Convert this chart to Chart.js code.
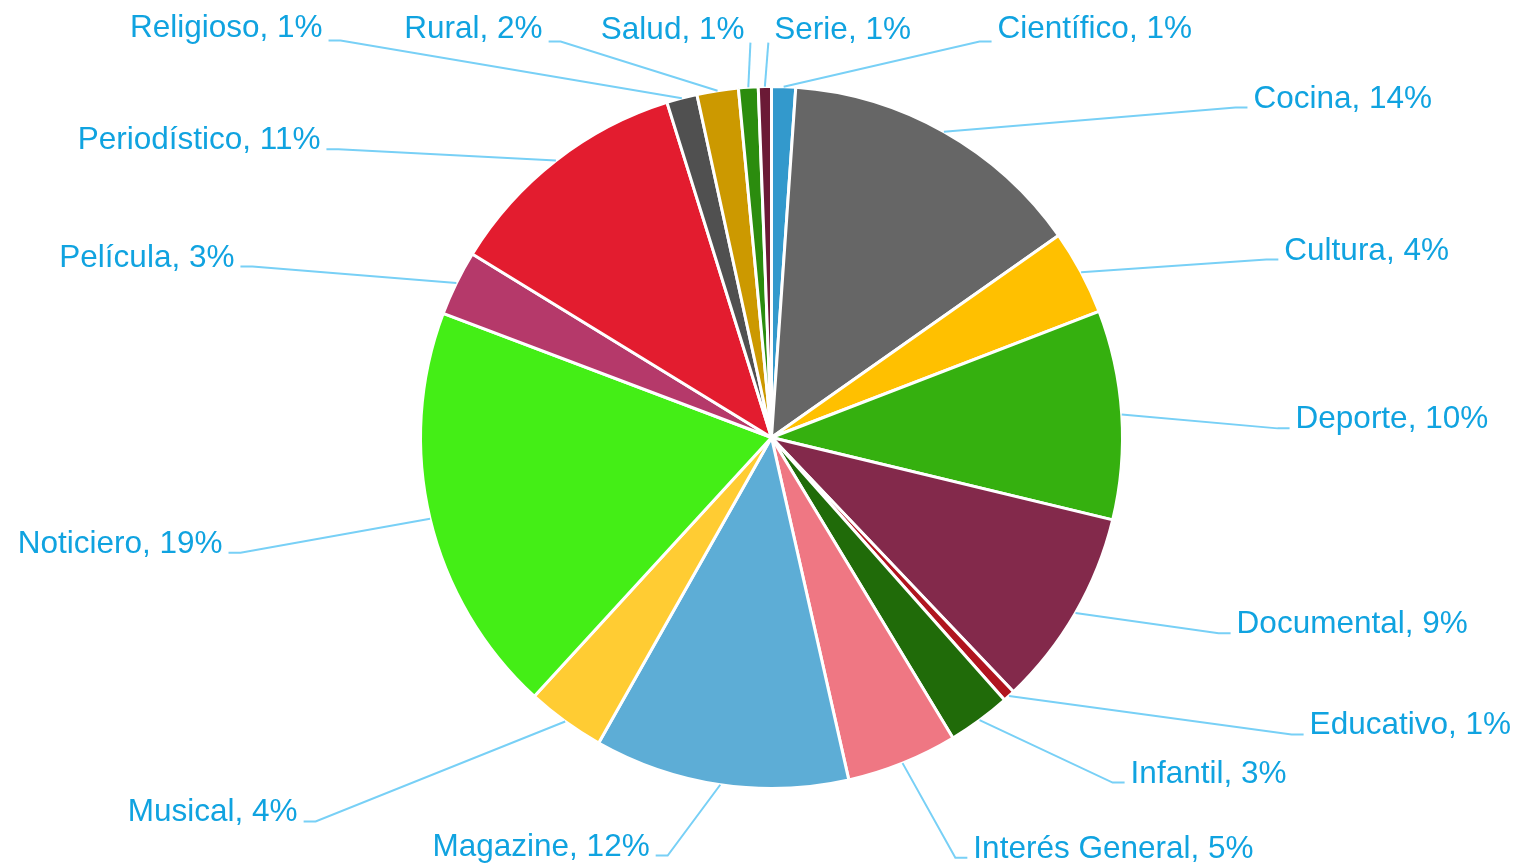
<!DOCTYPE html>
<html>
<head>
<meta charset="utf-8">
<script src="https://cdn.jsdelivr.net/npm/chart.js@4"></script>
<style>
  html, body { margin: 0; padding: 0; background: #fff; }
  #wrap { width: 1517px; height: 865px; }
</style>
</head>
<body>
<div id="wrap"><canvas id="pie-chart"></canvas></div>
<script>
let genres = ['Científico', 'Cocina', 'Cultura', 'Deporte', 'Documental', 'Educativo', 'Infantil',
  'Interés General', 'Magazine', 'Musical', 'Noticiero', 'Película', 'Periodístico',
  'Religioso', 'Rural', 'Salud', 'Serie'];
let shares = [1.1, 14.1, 3.9, 9.6, 9.1, 0.55, 2.9, 5.1, 11.7, 3.6, 18.9, 3.0, 11.4, 1.4, 1.9, 0.9, 0.6];
let colors = ['#3399cc', '#666666', '#ffc000', '#35b00f', '#83294b', '#b0151f', '#206b09',
  '#ef7783', '#5dadd6', '#ffcc33', '#44ee16', '#b5396a', '#e31c2f', '#505050', '#cc9900',
  '#2b8c0e', '#6b1a36'];

// label anchor (end of leader) relative to pie centre, in radii; third value: 1 = text right, -1 = text left
let labelPos = [
  [0.627, -1.128, 1], [1.356, -0.940, 1], [1.444, -0.507, 1], [1.476, -0.026, 1],
  [1.308, 0.558, 1], [1.516, 0.846, 1], [1.006, 0.983, 1], [0.558, 1.197, 1],
  [-0.330, 1.191, -1], [-1.333, 1.094, -1], [-1.547, 0.328, -1], [-1.513, -0.487, -1],
  [-1.268, -0.821, -1], [-1.262, -1.131, -1], [-0.635, -1.128, -1], [-0.060, -1.125, -1],
  [-0.009, -1.125, 1]
];

let total = shares.reduce((a, b) => a + b);

let leaderLabels = {
  id: 'leaderLabels',
  afterDatasetsDraw(chart) {
    let ctx = chart.ctx;
    let arcs = chart.getDatasetMeta(0).data;
    ctx.save();
    ctx.font = '31.5px "Liberation Sans", Arial, sans-serif';
    ctx.textBaseline = 'alphabetic';
    arcs.forEach((arc, i) => {
      let r = arc.outerRadius;
      let mid = (arc.startAngle + arc.endAngle) / 2;
      let x0 = arc.x + Math.cos(mid) * r;
      let y0 = arc.y + Math.sin(mid) * r;
      let [px, py, side] = labelPos[i];
      let x1 = arc.x + px * r;
      let y1 = arc.y + py * r;
      let knee = Math.abs(x1 - x0) > 15 ? 12 : 0;

      ctx.strokeStyle = '#78d0f6';
      ctx.lineWidth = 2;
      ctx.beginPath();
      ctx.moveTo(x0, y0);
      ctx.lineTo(x1 - side * knee, y1);
      ctx.lineTo(x1, y1);
      ctx.stroke();

      // labels pushed against the top edge sit a little higher than their leader
      let ty = py < -1 ? y1 - 4 : y1;
      ctx.fillStyle = '#10a3e0';
      ctx.textAlign = side > 0 ? 'left' : 'right';
      let pct = Math.round(shares[i] / total * 100);
      ctx.fillText(genres[i] + ', ' + pct + '%', x1 + side * 6, ty);
    });
    ctx.restore();
  }
};

new Chart(document.getElementById('pie-chart'), {
  type: 'pie',
  data: {
    labels: genres,
    datasets: [{
      data: shares,
      backgroundColor: colors,
      borderColor: '#ffffff',
      borderWidth: 3
    }]
  },
  options: {
    responsive: true,
    maintainAspectRatio: false,
    animation: false,
    events: [],
    layout: {
      padding: { left: 419, right: 393, top: 85, bottom: 75 }
    },
    plugins: {
      legend: { display: false },
      tooltip: { enabled: false }
    }
  },
  plugins: [leaderLabels]
});
</script>
</body>
</html>
